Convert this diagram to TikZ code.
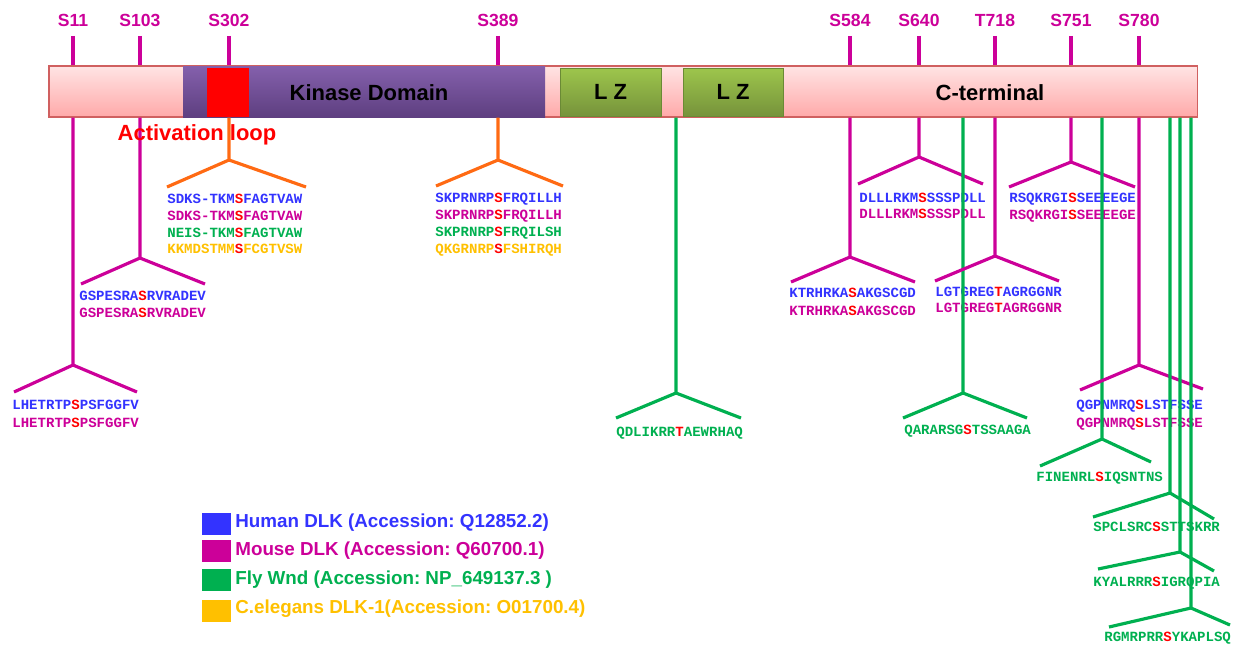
\documentclass[tikz,border=0pt]{standalone}
\usepackage{fontspec}
\setmainfont{Liberation Sans}
\newfontfamily\seqfont{Liberation Mono}
\usepackage{tikz}
\usetikzlibrary{positioning}
\frenchspacing

\definecolor{humanblue}{HTML}{3333FF}
\definecolor{mousemag}{HTML}{CC0099}
\definecolor{flygreen}{HTML}{00B050}
\definecolor{wormgold}{HTML}{FFC000}
\definecolor{loopred}{HTML}{FF0000}
\definecolor{kinorange}{HTML}{FF6A13}
\definecolor{barpinktop}{HTML}{FFE4E4}
\definecolor{barpinkbot}{HTML}{FFA9A9}
\definecolor{barline}{HTML}{D06060}
\definecolor{kinpurpletop}{HTML}{8460AC}
\definecolor{kinpurplebot}{HTML}{5E3F80}
\definecolor{lzgreentop}{HTML}{9DC54C}
\definecolor{lzgreenbot}{HTML}{76933B}
\definecolor{lzline}{HTML}{6A8A35}

% one peptide, phospho-site in red
\newcommand{\motif}[3]{#1{\color{loopred}#2}#3}

\begin{document}
\begin{tikzpicture}[x=0.2mm,y=-0.2mm,
site/.style={font=\bfseries\fontsize{10}{12}\selectfont,text=mousemag},
tick/.style={draw=mousemag,line width=2pt,shorten <=2pt},
mline/.style={draw=mousemag,line width=1.8pt},
oline/.style={draw=kinorange,line width=1.8pt},
gline/.style={draw=flygreen,line width=1.8pt},
seq/.style={font=\seqfont\bfseries\fontsize{8}{9}\selectfont,anchor=west,inner sep=0pt,text height=1.7mm,text depth=0pt},
domainbox/.style={inner sep=0pt,minimum height=10.2mm},
dlabel/.style={font=\bfseries\fontsize{12.5}{14}\selectfont},
key/.style={minimum width=5.8mm,minimum height=4.4mm,inner sep=0pt},
keytext/.style={font=\bfseries\fontsize{10.7}{13}\selectfont,anchor=west,inner sep=0pt}]

\useasboundingbox (0,0) rectangle (1233,644);

% protein
\node[domainbox,minimum width=229.6mm,top color=barpinktop,bottom color=barpinkbot,draw=barline,line width=0.6pt] (bar) at (623,91.5) {};
\node[domainbox,minimum width=72.4mm,top color=kinpurpletop,bottom color=kinpurplebot] (kinase) at (364,91.5) {};
\node[fill=loopred,minimum width=8.4mm,minimum height=9.8mm,inner sep=0pt] (aloop) at (228,92.5) {};
\node[dlabel] (kinlabel) at (369,93) {Kinase Domain};
\node[domainbox,dlabel,minimum width=20.2mm,minimum height=9.6mm,top color=lzgreentop,bottom color=lzgreenbot,draw=lzline,line width=0.4pt] (lz1) at (610.5,92) {L Z};
\node[domainbox,dlabel,minimum width=20mm,minimum height=9.6mm,top color=lzgreentop,bottom color=lzgreenbot,draw=lzline,line width=0.4pt] (lz2) at (733,92) {L Z};
\node[dlabel] (cterm) at (990,93) {C-terminal};

% sites
\node[site] (s11) at (73,20) {S11};
\node[site] (s103) at (140,20) {S103};
\node[site] (s302) at (229,20) {S302};
\node[site] (s389) at (498,20) {S389};
\node[site] (s584) at (850,20) {S584};
\node[site] (s640) at (919,20) {S640};
\node[site] (t718) at (995,20) {T718};
\node[site] (s751) at (1071,20) {S751};
\node[site] (s780) at (1139,20) {S780};

\draw[tick] (s11.south) -- (s11.south |- bar.north);
\draw[tick] (s103.south) -- (s103.south |- bar.north);
\draw[tick] (s302.south) -- (s302.south |- bar.north);
\draw[tick] (s389.south) -- (s389.south |- bar.north);
\draw[tick] (s584.south) -- (s584.south |- bar.north);
\draw[tick] (s640.south) -- (s640.south |- bar.north);
\draw[tick] (t718.south) -- (t718.south |- bar.north);
\draw[tick] (s751.south) -- (s751.south |- bar.north);
\draw[tick] (s780.south) -- (s780.south |- bar.north);

% peptides
\node[seq,text=humanblue] (p11h) at (12,405) {\motif{LHETRTP}{S}{PSFGGFV}};
\node[seq,text=mousemag] (p11m) at (12,423) {\motif{LHETRTP}{S}{PSFGGFV}};
\node[seq,text=humanblue] (p103h) at (79,296) {\motif{GSPESRA}{S}{RVRADEV}};
\node[seq,text=mousemag] (p103m) at (79,313) {\motif{GSPESRA}{S}{RVRADEV}};
\node[seq,text=humanblue] (p302h) at (167,199) {\motif{SDKS-TKM}{S}{FAGTVAW}};
\node[seq,text=mousemag] (p302m) at (167,216) {\motif{SDKS-TKM}{S}{FAGTVAW}};
\node[seq,text=flygreen] (p302f) at (167,233) {\motif{NEIS-TKM}{S}{FAGTVAW}};
\node[seq,text=wormgold] (p302w) at (167,249) {\motif{KKMDSTMM}{S}{FCGTVSW}};
\node[seq,text=humanblue] (p389h) at (435,198) {\motif{SKPRNRP}{S}{FRQILLH}};
\node[seq,text=mousemag] (p389m) at (435,215) {\motif{SKPRNRP}{S}{FRQILLH}};
\node[seq,text=flygreen] (p389f) at (435,232) {\motif{SKPRNRP}{S}{FRQILSH}};
\node[seq,text=wormgold] (p389w) at (435,249) {\motif{QKGRNRP}{S}{FSHIRQH}};
\node[seq,text=flygreen] (pg1) at (616,432) {\motif{QDLIKRR}{T}{AEWRHAQ}};
\node[seq,text=humanblue] (p584h) at (789,293) {\motif{KTRHRKA}{S}{AKGSCGD}};
\node[seq,text=mousemag] (p584m) at (789,311) {\motif{KTRHRKA}{S}{AKGSCGD}};
\node[seq,text=humanblue] (p640h) at (859,198) {\motif{DLLLRKM}{S}{SSSPDLL}};
\node[seq,text=mousemag] (p640m) at (859,214) {\motif{DLLLRKM}{S}{SSSPDLL}};
\node[seq,text=flygreen] (pg2) at (904,430) {\motif{QARARSG}{S}{TSSAAGA}};
\node[seq,text=humanblue] (p718h) at (935,292) {\motif{LGTGREG}{T}{AGRGGNR}};
\node[seq,text=mousemag] (p718m) at (935,308) {\motif{LGTGREG}{T}{AGRGGNR}};
\node[seq,text=humanblue] (p751h) at (1009,198) {\motif{RSQKRGI}{S}{SEEEEGE}};
\node[seq,text=mousemag] (p751m) at (1009,215) {\motif{RSQKRGI}{S}{SEEEEGE}};
\node[seq,text=flygreen] (pg3) at (1036,477) {\motif{FINENRL}{S}{IQSNTNS}};
\node[seq,text=humanblue] (p780h) at (1076,405) {\motif{QGPNMRQ}{S}{LSTFSSE}};
\node[seq,text=mousemag] (p780m) at (1076,423) {\motif{QGPNMRQ}{S}{LSTFSSE}};
\node[seq,text=flygreen] (pg4) at (1093,527) {\motif{SPCLSRC}{S}{STTSKRR}};
\node[seq,text=flygreen] (pg5) at (1093,582) {\motif{KYALRRR}{S}{IGRQPIA}};
\node[seq,text=flygreen] (pg6) at (1104,637) {\motif{RGMRPRR}{S}{YKAPLSQ}};

% forks
\coordinate (a11) at (73,365);   \coordinate (l11) at (14,392);   \coordinate (r11) at (137,392);
\coordinate (a103) at (140,258); \coordinate (l103) at (81,284);  \coordinate (r103) at (205,284);
\coordinate (a302) at (229,160); \coordinate (l302) at (167,187); \coordinate (r302) at (306,187);
\coordinate (a389) at (498,160); \coordinate (l389) at (436,186); \coordinate (r389) at (563,186);
\coordinate (ag1) at (676,393);  \coordinate (lg1) at (616,418);  \coordinate (rg1) at (741,418);
\coordinate (a584) at (850,257); \coordinate (l584) at (791,282); \coordinate (r584) at (915,282);
\coordinate (a640) at (919,157); \coordinate (l640) at (858,184); \coordinate (r640) at (983,184);
\coordinate (ag2) at (963,393);  \coordinate (lg2) at (903,418);  \coordinate (rg2) at (1027,418);
\coordinate (a718) at (995,256); \coordinate (l718) at (935,281); \coordinate (r718) at (1059,281);
\coordinate (a751) at (1071,162); \coordinate (l751) at (1009,187); \coordinate (r751) at (1135,187);
\coordinate (ag3) at (1102,439); \coordinate (lg3) at (1040,466); \coordinate (rg3) at (1151,462);
\coordinate (a780) at (1139,365); \coordinate (l780) at (1080,390); \coordinate (r780) at (1203,389);
\coordinate (ag4) at (1170,493); \coordinate (lg4) at (1093,517); \coordinate (rg4) at (1214,519);
\coordinate (ag5) at (1180,552); \coordinate (lg5) at (1098,569); \coordinate (rg5) at (1214,571);
\coordinate (ag6) at (1191,608); \coordinate (lg6) at (1109,627); \coordinate (rg6) at (1230,625);

\draw[mline] (s11 |- bar.south) -- (a11) -- (l11);   \draw[mline] (a11) -- (r11);
\draw[mline] (s103 |- bar.south) -- (a103) -- (l103); \draw[mline] (a103) -- (r103);
\draw[oline] (s302 |- bar.south) -- (a302) -- (l302); \draw[oline] (a302) -- (r302);
\draw[oline] (s389 |- bar.south) -- (a389) -- (l389); \draw[oline] (a389) -- (r389);
\draw[gline] (ag1 |- bar.south) -- (ag1) -- (lg1);   \draw[gline] (ag1) -- (rg1);
\draw[mline] (s584 |- bar.south) -- (a584) -- (l584); \draw[mline] (a584) -- (r584);
\draw[mline] (s640 |- bar.south) -- (a640) -- (l640); \draw[mline] (a640) -- (r640);
\draw[gline] (ag2 |- bar.south) -- (ag2) -- (lg2);   \draw[gline] (ag2) -- (rg2);
\draw[mline] (t718 |- bar.south) -- (a718) -- (l718); \draw[mline] (a718) -- (r718);
\draw[mline] (s751 |- bar.south) -- (a751) -- (l751); \draw[mline] (a751) -- (r751);
\draw[gline] (ag3 |- bar.south) -- (ag3) -- (lg3);   \draw[gline] (ag3) -- (rg3);
\draw[mline] (s780 |- bar.south) -- (a780) -- (l780); \draw[mline] (a780) -- (r780);
\draw[gline] (ag4 |- bar.south) -- (ag4) -- (lg4);   \draw[gline] (ag4) -- (rg4);
\draw[gline] (ag5 |- bar.south) -- (ag5) -- (lg5);   \draw[gline] (ag5) -- (rg5);
\draw[gline] (ag6 |- bar.south) -- (ag6) -- (lg6);   \draw[gline] (ag6) -- (rg6);

\node[dlabel,text=loopred] (looplabel) at (197,135) {Activation loop};

% legend
\node[key,fill=humanblue] (khuman) at (216.5,524) {};
\node[key,fill=mousemag] (kmouse) at (216.5,551) {};
\node[key,fill=flygreen] (kfly) at (216.5,580) {};
\node[key,fill=wormgold] (kworm) at (216.5,611) {};
\node[keytext,text=humanblue] (thuman) at (235,523) {Human DLK (Accession: Q12852.2)};
\node[keytext,text=mousemag] (tmouse) at (235,551) {Mouse DLK (Accession: Q60700.1)};
\node[keytext,text=flygreen] (tfly) at (235,580) {Fly Wnd (Accession: NP\_649137.3 )};
\node[keytext,text=wormgold] (tworm) at (235,609) {C.elegans DLK-1(Accession: O01700.4)};

\end{tikzpicture}
\end{document}
